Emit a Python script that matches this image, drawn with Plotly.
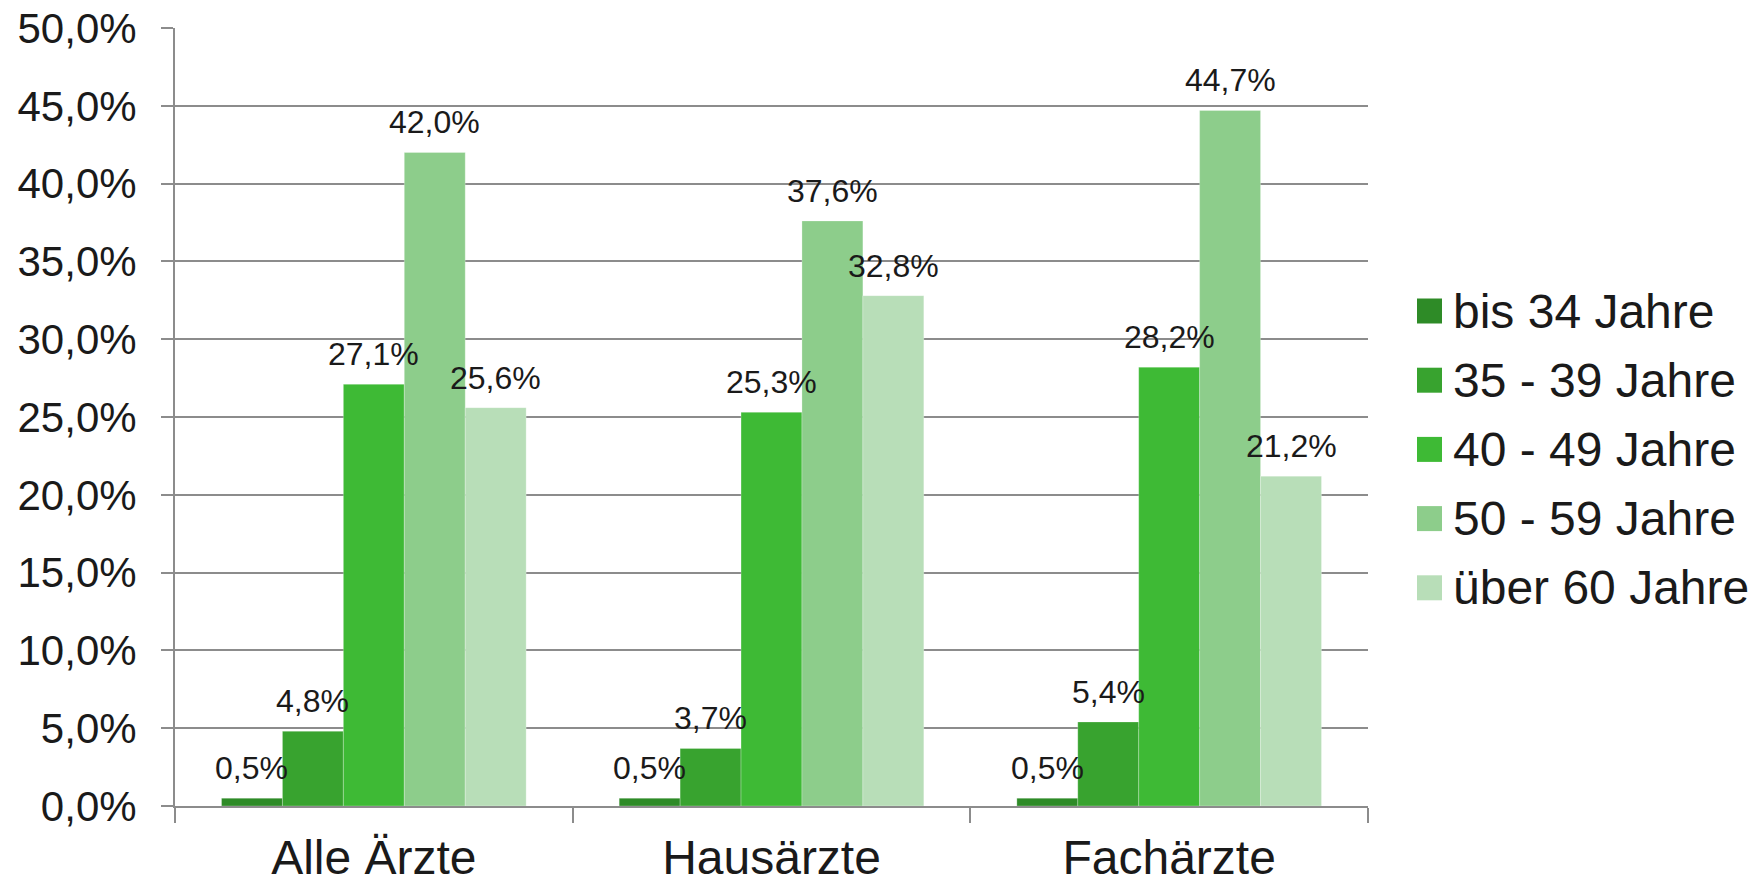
import plotly.graph_objects as go

categories = ["Alle Ärzte", "Hausärzte", "Fachärzte"]
age_groups = ["bis 34 Jahre", "35 - 39 Jahre", "40 - 49 Jahre", "50 - 59 Jahre", "über 60 Jahre"]

bis_34 = [0.5, 0.5, 0.5]
j35_39 = [4.8, 3.7, 5.4]
j40_49 = [27.1, 25.3, 28.2]
j50_59 = [42.0, 37.6, 44.7]
ueber_60 = [25.6, 32.8, 21.2]

series = [bis_34, j35_39, j40_49, j50_59, ueber_60]
colors = ["#2E8B27", "#38A32F", "#3EBA35", "#8DCD8B", "#B8DEB8"]

FONT = "Liberation Sans, Arial, sans-serif"
TXT = "#1A1A1A"
GRID = "#8C8C8C"

W, H = 1760, 885
L, T = 175, 28
R = W - 1368
B = H - 806
plot_w = W - L - R
plot_h = H - T - B
BARGAP = 0.234
bar_px = plot_w / len(categories) * (1 - BARGAP) / len(series)

fig = go.Figure()

for name, vals, col in zip(age_groups, series, colors):
    fig.add_trace(go.Bar(
        x=categories,
        y=vals,
        name=name,
        marker=dict(color=col, line=dict(color="rgba(255,255,255,0.5)", width=0.5)),
        showlegend=False,
    ))

# data labels above each bar (German decimal comma)
for i, vals in enumerate(series):
    for cat, v in zip(categories, vals):
        fig.add_annotation(
            x=cat, y=v, xref="x", yref="y",
            text=f"{v:.1f}%".replace(".", ","),
            showarrow=False, xanchor="center", yanchor="bottom",
            xshift=(i - (len(series) - 1) / 2) * bar_px, yshift=10,
            font=dict(size=32, color=TXT, family=FONT),
        )

# legend: squares + labels on the right
row0, row_gap = 311, 69.2
sq_x0, sq_x1, txt_x = 1417, 1442, 1451
for i, (name, col) in enumerate(zip(age_groups, colors)):
    yc = row0 + i * row_gap
    yp = (H - B - yc) / plot_h
    fig.add_shape(
        type="rect", xref="paper", yref="paper",
        x0=(sq_x0 - L) / plot_w, x1=(sq_x1 - L) / plot_w,
        y0=yp - 12.5 / plot_h, y1=yp + 12.5 / plot_h,
        fillcolor=col, line=dict(width=0),
    )
    fig.add_annotation(
        x=(txt_x - L) / plot_w, y=yp, xref="paper", yref="paper",
        text=name, showarrow=False, xanchor="left", yanchor="middle",
        font=dict(size=48, color=TXT, family=FONT),
    )

fig.update_layout(
    width=W,
    height=H,
    barmode="group",
    bargap=BARGAP,
    bargroupgap=0,
    separators=",.",
    plot_bgcolor="white",
    paper_bgcolor="white",
    font=dict(family=FONT, color=TXT),
    margin=dict(l=L, r=R, t=T, b=B),
    showlegend=False,
    xaxis=dict(
        automargin=False,
        showline=True, linecolor=GRID, linewidth=2,
        ticks="outside", tickson="boundaries", ticklen=15, tickcolor=GRID, tickwidth=2,
        ticklabelstandoff=8, ticklabeloverflow="allow",
        tickfont=dict(size=48, color=TXT, family=FONT),
        showgrid=False,
    ),
    yaxis=dict(
        automargin=False,
        range=[0, 50], dtick=5, tickformat=".1f", ticksuffix="%",
        showline=True, linecolor=GRID, linewidth=2,
        ticks="outside", ticklen=12, tickcolor=GRID, tickwidth=2,
        ticklabelstandoff=16, ticklabeloverflow="allow",
        showgrid=True, gridcolor=GRID, gridwidth=2,
        tickfont=dict(size=42, color=TXT, family=FONT),
        zeroline=False,
    ),
)

# drop the default 8px body margin so the figure fills the window exactly
fig.write_html(
    "out.html",
    config={"displayModeBar": False},
    post_script="document.body.style.margin='0';",
)
